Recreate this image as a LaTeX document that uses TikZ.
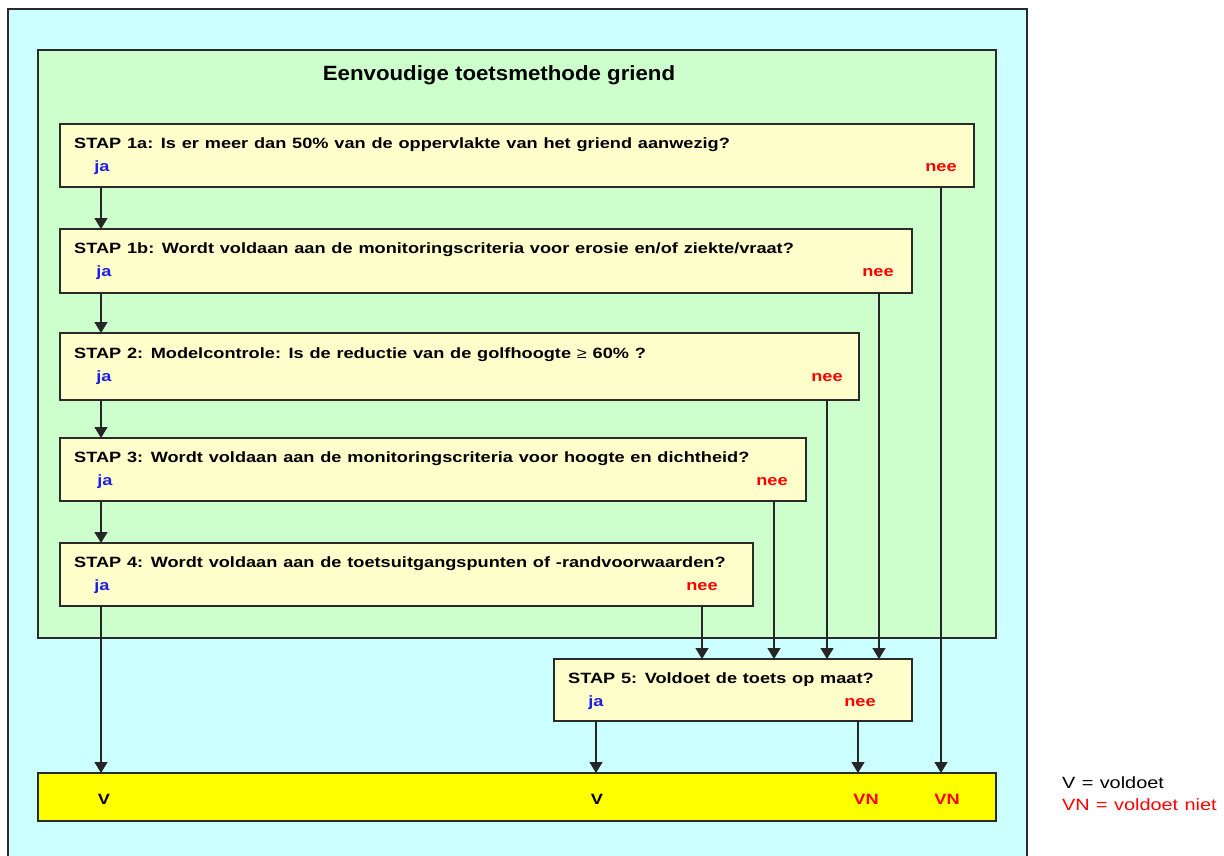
\documentclass[tikz,border=0pt]{standalone}
\usepackage{fontspec}
\setmainfont[FakeStretch=1.22, WordSpace=1.15]{Liberation Sans}
\newfontfamily\titlefont[FakeStretch=1.08]{Liberation Sans}
\usetikzlibrary{arrows.meta}
\definecolor{bgcyan}{HTML}{CCFFFF}
\definecolor{bggreen}{HTML}{CCFFCC}
\definecolor{boxyellow}{HTML}{FFFFCC}
\definecolor{baryellow}{HTML}{FFFF00}
\definecolor{jablue}{HTML}{1E1EE6}
\definecolor{neered}{HTML}{FF0000}
\definecolor{edgegray}{HTML}{2A2A2A}
\begin{document}
\begin{tikzpicture}[x=1pt,y=-1pt,
  panel/.style={draw=edgegray, line width=1.2pt, anchor=north west, inner sep=0pt, outer sep=0pt},
  stepbox/.style={panel, fill=boxyellow},
  txt/.style={font=\fontsize{14.9pt}{18pt}\selectfont\bfseries, anchor=base west, inner sep=0pt},
  jalab/.style={font=\fontsize{14.9pt}{18pt}\selectfont\bfseries, anchor=base, inner sep=0pt, text=jablue},
  neelab/.style={font=\fontsize{14.9pt}{18pt}\selectfont\bfseries, anchor=base, inner sep=0pt, text=neered},
  reslab/.style={font=\fontsize{14.9pt}{18pt}\selectfont\bfseries, anchor=base, inner sep=0pt},
  leg/.style={font=\fontsize{16.3pt}{19pt}\selectfont, anchor=base west, inner sep=0pt},
  arr/.style={draw=black!85, line width=1.3pt, -{Triangle[width=13pt,length=11pt]}}
]
\useasboundingbox (0,0) rectangle (1224,855);
% backgrounds
\node[panel, fill=bgcyan, minimum width=1019pt, minimum height=851pt] (outer) at (8,9) {};
\node[panel, fill=bggreen, minimum width=958pt, minimum height=588pt] (green) at (38,50) {};
\node[font=\titlefont\fontsize{20.6pt}{24pt}\selectfont\bfseries, anchor=base, inner sep=0pt] (title) at (499,80) {Eenvoudige toetsmethode griend};
% step boxes
\node[stepbox, minimum width=914pt, minimum height=63pt] (s1a) at (60,124) {};
\node[stepbox, minimum width=852pt, minimum height=64pt] (s1b) at (60,229) {};
\node[stepbox, minimum width=799pt, minimum height=67pt] (s2) at (60,333) {};
\node[stepbox, minimum width=746pt, minimum height=63pt] (s3) at (60,438) {};
\node[stepbox, minimum width=693pt, minimum height=63pt] (s4) at (60,543) {};
\node[stepbox, minimum width=358pt, minimum height=62pt] (s5) at (554,659) {};
\node[panel, fill=baryellow, minimum width=958pt, minimum height=48pt] (bar) at (38,773) {};
% texts
\node[txt] (t1a) at (74,148) {STAP 1a: Is er meer dan 50\% van de oppervlakte van het griend aanwezig?};
\node[txt] (t1b) at (74,253) {STAP 1b: Wordt voldaan aan de monitoringscriteria voor erosie en/of ziekte/vraat?};
\node[txt] (t2) at (74,358) {STAP 2: Modelcontrole: Is de reductie van de golfhoogte {\mdseries≥} 60\% ?};
\node[txt] (t3) at (74,462) {STAP 3: Wordt voldaan aan de monitoringscriteria voor hoogte en dichtheid?};
\node[txt] (t4) at (74,567) {STAP 4: Wordt voldaan aan de toetsuitgangspunten of -randvoorwaarden?};
\node[txt] (t5) at (568,683) {STAP 5: Voldoet de toets op maat?};
% ja / nee labels
\node[jalab] (ja1a) at (102,171) {ja};
\node[neelab] (nee1a) at (941,171) {nee};
\node[jalab] (ja1b) at (104,276) {ja};
\node[neelab] (nee1b) at (878,276) {nee};
\node[jalab] (ja2) at (104,381) {ja};
\node[neelab] (nee2) at (827,381) {nee};
\node[jalab] (ja3) at (105,485) {ja};
\node[neelab] (nee3) at (772,485) {nee};
\node[jalab] (ja4) at (102,590) {ja};
\node[neelab] (nee4) at (702,590) {nee};
\node[jalab] (ja5) at (596,706) {ja};
\node[neelab] (nee5) at (860,706) {nee};
% results
\node[reslab] (v1) at (104,804) {V};
\node[reslab] (v2) at (597,804) {V};
\node[reslab, text=neered] (vn1) at (866,804) {VN};
\node[reslab, text=neered] (vn2) at (947,804) {VN};
% legend
\node[leg] (legv) at (1062,788) {V = voldoet};
\node[leg, text=neered] (legvn) at (1062,810) {VN = voldoet niet};
% arrow columns
\coordinate (cja) at (101,0);
\coordinate (cn1a) at (941,0);
\coordinate (cn1b) at (879,0);
\coordinate (cn2) at (827,0);
\coordinate (cn3) at (774,0);
\coordinate (cn4) at (702,0);
\coordinate (cja5) at (596,0);
\coordinate (cn5) at (858,0);
% ja arrows
\draw[arr] (s1a.south -| cja) -- (s1b.north -| cja);
\draw[arr] (s1b.south -| cja) -- (s2.north -| cja);
\draw[arr] (s2.south -| cja) -- (s3.north -| cja);
\draw[arr] (s3.south -| cja) -- (s4.north -| cja);
\draw[arr] (s4.south -| cja) -- (bar.north -| cja);
% nee arrows
\draw[arr] (s1a.south -| cn1a) -- (bar.north -| cn1a);
\draw[arr] (s1b.south -| cn1b) -- (s5.north -| cn1b);
\draw[arr] (s2.south -| cn2) -- (s5.north -| cn2);
\draw[arr] (s3.south -| cn3) -- (s5.north -| cn3);
\draw[arr] (s4.south -| cn4) -- (s5.north -| cn4);
% step 5 arrows
\draw[arr] (s5.south -| cja5) -- (bar.north -| cja5);
\draw[arr] (s5.south -| cn5) -- (bar.north -| cn5);
\end{tikzpicture}
\end{document}
